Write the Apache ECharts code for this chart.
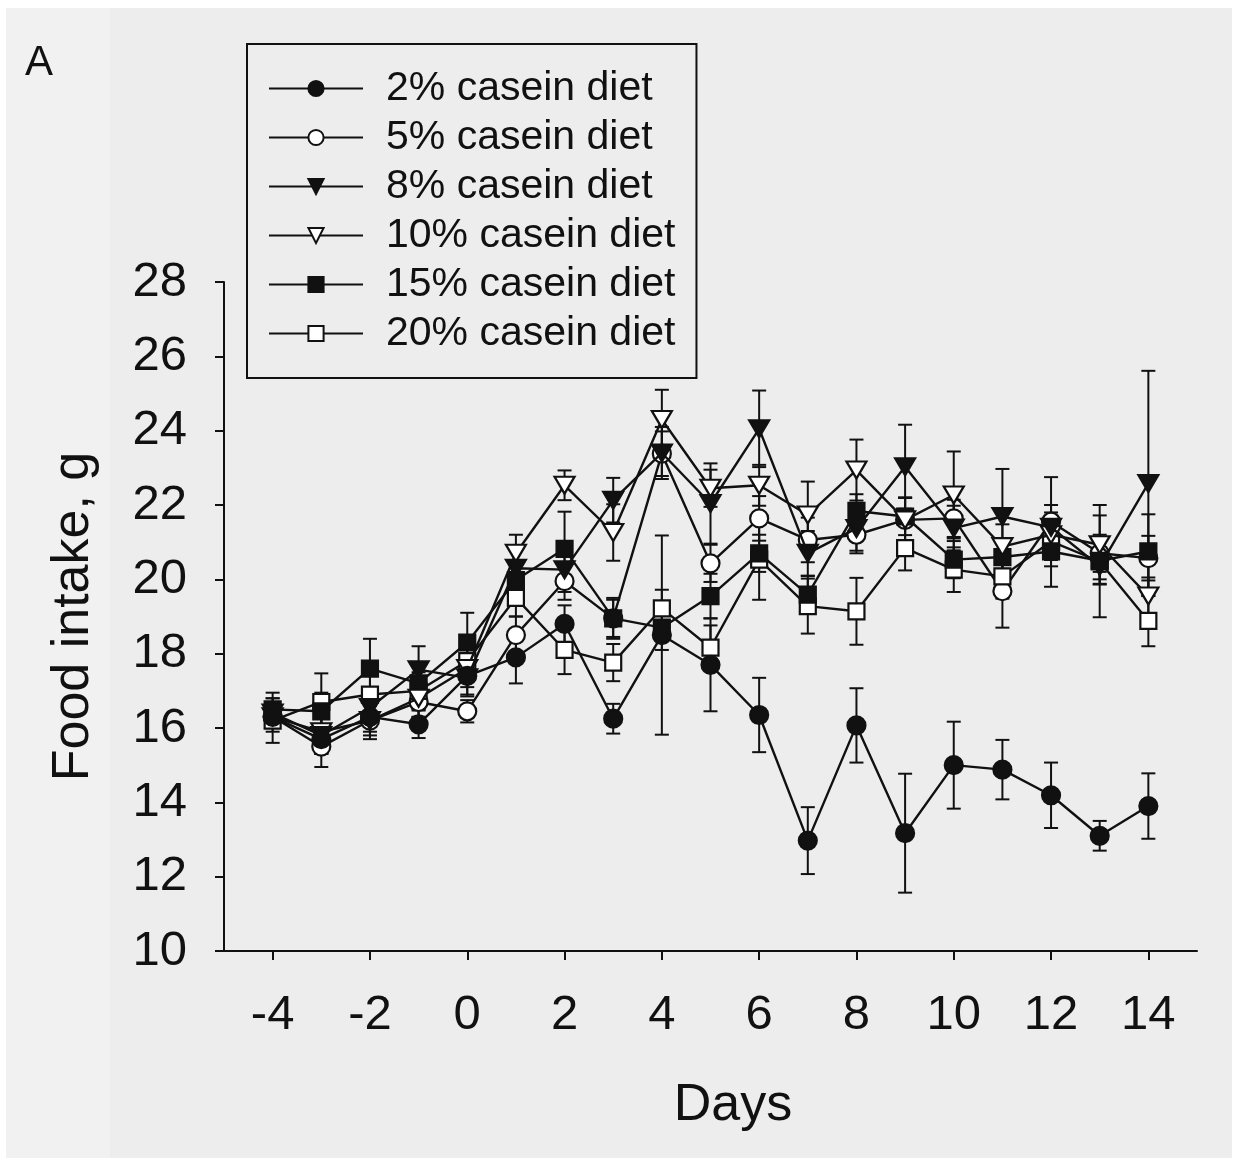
<!DOCTYPE html>
<html>
<head>
<meta charset="utf-8">
<script src="https://cdn.jsdelivr.net/npm/echarts@6/dist/echarts.min.js"></script>
<style>
  html, body { margin: 0; padding: 0; background: #ffffff; }
  #chart { width: 1236px; height: 1162px; }
</style>
</head>
<body>
<div id="chart"></div>
<script>
// Days relative to the diet switch (day 0)
const days = [-4, -3, -2, -1, 0, 1, 2, 3, 4, 5, 6, 7, 8, 9, 10, 11, 12, 13, 14];
const dayTicks = [-4, -2, 0, 2, 4, 6, 8, 10, 12, 14];

const seriesNames = ['2% casein diet', '5% casein diet', '8% casein diet',
                     '10% casein diet', '15% casein diet', '20% casein diet'];

// Mean daily food intake (g) and SEM per diet group
const casein2     = [16.3, 15.7, 16.3, 16.1, 17.4, 17.9, 18.8, 16.25, 18.5, 17.7, 16.35, 12.97, 16.07, 13.17, 15.0, 14.88, 14.19, 13.1, 13.9];
const casein2Err  = [0.3, 0.4, 0.4, 0.37, 0.5, 0.7, 0.5, 0.4, 2.68, 1.25, 1.0, 0.9, 1.0, 1.6, 1.17, 0.8, 0.88, 0.4, 0.88];

const casein5     = [16.3, 15.5, 16.2, 16.7, 16.45, 18.5, 19.95, 18.95, 23.38, 20.43, 21.64, 21.06, 21.2, 21.6, 21.64, 19.68, 21.55, 20.7, 20.57];
const casein5Err  = [0.3, 0.55, 0.4, 0.4, 0.3, 0.5, 0.5, 0.5, 0.6, 0.5, 0.6, 0.6, 0.5, 0.6, 0.5, 0.98, 1.2, 0.5, 0.6];

const casein8     = [16.4, 15.8, 16.55, 17.57, 17.35, 20.3, 20.26, 22.13, 23.4, 22.04, 24.05, 20.7, 21.37, 23.03, 21.38, 21.69, 21.4, 20.35, 22.58];
const casein8Err  = [0.4, 0.5, 0.5, 0.63, 0.5, 0.5, 0.6, 0.6, 0.7, 1.08, 1.03, 0.6, 0.6, 1.13, 0.6, 1.28, 0.6, 1.37, 3.03];

const casein10    = [16.3, 15.9, 16.2, 16.8, 17.6, 20.7, 22.53, 21.26, 24.3, 22.45, 22.53, 21.73, 22.94, 21.6, 22.27, 20.88, 21.2, 20.93, 19.55];
const casein10Err = [0.4, 0.5, 0.5, 0.5, 0.5, 0.5, 0.4, 0.76, 0.8, 0.5, 0.55, 0.9, 0.82, 0.6, 1.17, 0.6, 0.6, 1.07, 0.5];

const casein15    = [16.5, 16.45, 17.6, 17.2, 18.3, 19.98, 20.82, 18.95, 18.7, 19.55, 20.7, 19.59, 21.84, 21.69, 20.53, 20.6, 20.75, 20.5, 20.75];
const casein15Err = [0.45, 0.5, 0.8, 0.5, 0.8, 0.5, 1.0, 0.55, 0.6, 0.6, 0.5, 0.5, 0.45, 0.5, 0.5, 0.5, 0.95, 0.5, 1.0];

const casein20    = [16.2, 16.7, 16.9, 17.0, 17.8, 19.5, 18.1, 17.76, 19.22, 18.16, 20.53, 19.28, 19.14, 20.84, 20.26, 20.08, 21.02, 20.48, 18.88];
const casein20Err = [0.6, 0.77, 0.5, 0.5, 0.5, 0.5, 0.65, 0.5, 0.5, 0.6, 1.08, 0.74, 0.9, 0.6, 0.6, 0.6, 0.5, 0.6, 0.68];

const FONT = '"Liberation Sans", Arial, Helvetica, sans-serif';
const INK = '#111111';
const DOWN_TRIANGLE = 'path://M0,0 L20,0 L10,17 Z';

// Marker style for each diet group
const markers = [
  { symbol: 'circle',      size: 18,       fill: INK },
  { symbol: 'circle',      size: 18,       fill: '#ffffff' },
  { symbol: DOWN_TRIANGLE, size: [20, 17], fill: INK },
  { symbol: DOWN_TRIANGLE, size: [20, 17], fill: '#ffffff' },
  { symbol: 'rect',        size: 16,       fill: INK },
  { symbol: 'rect',        size: 16,       fill: '#ffffff' }
];
// Drawing order of the groups (higher sits on top)
const layer = [8, 3, 7, 6, 5, 4];

const means  = [casein2, casein5, casein8, casein10, casein15, casein20];
const errors = [casein2Err, casein5Err, casein8Err, casein10Err, casein15Err, casein20Err];

function errorBar(params, api) {
  const x = api.value(0);
  const lo = api.coord([x, api.value(1)]);
  const hi = api.coord([x, api.value(2)]);
  const half = 7;
  const style = { stroke: INK, lineWidth: 2 };
  return {
    type: 'group',
    children: [
      { type: 'line', shape: { x1: lo[0], y1: lo[1], x2: hi[0], y2: hi[1] }, style },
      { type: 'line', shape: { x1: lo[0] - half, y1: lo[1], x2: lo[0] + half, y2: lo[1] }, style },
      { type: 'line', shape: { x1: hi[0] - half, y1: hi[1], x2: hi[0] + half, y2: hi[1] }, style }
    ]
  };
}

const series = [];
means.forEach((vals, i) => {
  series.push({
    name: 'sem-' + i,
    type: 'custom',
    renderItem: errorBar,
    encode: { x: 0, y: [1, 2] },
    data: days.map((d, k) => [d, vals[k] - errors[i][k], vals[k] + errors[i][k]]),
    z: 2,
    silent: true
  });
});
means.forEach((vals, i) => {
  const m = markers[i];
  series.push({
    name: seriesNames[i],
    type: 'line',
    data: days.map((d, k) => [d, vals[k]]),
    symbol: m.symbol,
    symbolSize: m.size,
    showAllSymbol: true,
    lineStyle: { color: INK, width: 2.4 },
    itemStyle: { color: m.fill, borderColor: INK, borderWidth: 2.2 },
    z: layer[i]
  });
});

const chart = echarts.init(document.getElementById('chart'), null, { renderer: 'canvas' });
chart.setOption({
  animation: false,
  backgroundColor: '#ffffff',
  textStyle: { fontFamily: FONT, color: INK },
  graphic: [
    { type: 'rect', z: -10, shape: { x: 6, y: 8, width: 1226, height: 1150 }, style: { fill: '#ededed' } },
    { type: 'rect', z: -9, shape: { x: 6, y: 8, width: 104, height: 1150 }, style: { fill: '#f1f1f1' } },
    { type: 'text', left: 25, top: 42, style: { text: 'A', font: '42px ' + FONT, fill: INK } },
    { type: 'text', x: 733, y: 1106, style: { text: 'Days', font: '52px ' + FONT, fill: INK, align: 'center', verticalAlign: 'middle' } }
  ],
  grid: { left: 224, right: 39, top: 282, bottom: 211, containLabel: false },
  legend: {
    data: seriesNames,
    orient: 'vertical',
    left: 247,
    top: 44,
    padding: [24, 21, 24, 21],
    itemGap: 8,
    itemWidth: 94,
    itemHeight: 19,
    borderColor: INK,
    borderWidth: 2,
    backgroundColor: '#ededed',
    selectedMode: false,
    textStyle: { fontFamily: FONT, fontSize: 41, lineHeight: 41, color: INK, padding: [0, 0, 0, 18] }
  },
  xAxis: {
    type: 'value',
    min: -5,
    max: 15,
    axisLine: { show: true, onZero: false, lineStyle: { color: INK, width: 2 } },
    axisTick: { show: true, inside: false, length: 9, customValues: dayTicks, lineStyle: { color: INK, width: 2 } },
    axisLabel: { customValues: dayTicks, fontSize: 49, fontFamily: FONT, color: INK, margin: 40 },
    splitLine: { show: false }
  },
  yAxis: {
    type: 'value',
    min: 10,
    max: 28,
    interval: 2,
    name: 'Food intake, g',
    nameLocation: 'middle',
    nameGap: 124,
    nameTextStyle: { fontSize: 52, fontFamily: FONT, color: INK },
    axisLine: { show: true, onZero: false, lineStyle: { color: INK, width: 2 } },
    axisTick: { show: true, inside: false, length: 9, lineStyle: { color: INK, width: 2 } },
    axisLabel: { fontSize: 49, fontFamily: FONT, color: INK, margin: 37 },
    splitLine: { show: false }
  },
  series
});
</script>
</body>
</html>
